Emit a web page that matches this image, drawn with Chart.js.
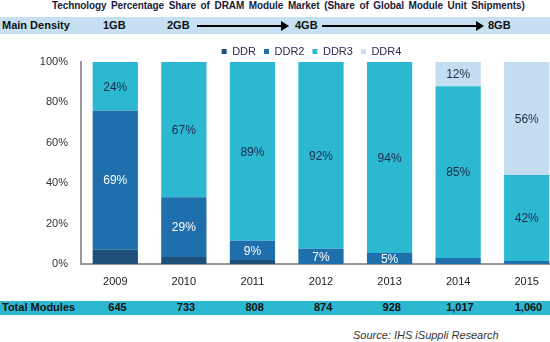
<!DOCTYPE html>
<html>
<head>
<meta charset="utf-8">
<script src="https://cdn.jsdelivr.net/npm/chart.js@4/dist/chart.umd.min.js"></script>
<style>
  html, body { margin: 0; padding: 0; width: 550px; height: 342px; overflow: hidden; background: #fff; font-family: "Liberation Sans", Arial, sans-serif; }
  #wrap { position: relative; width: 550px; height: 342px; overflow: hidden; }
  #title { position: absolute; left: 52px; top: 0; line-height: 12px; white-space: nowrap; font-size: 10px; font-weight: bold; color: #1b1b3a; word-spacing: 2px; letter-spacing: -0.1px; }
  .band { position: absolute; left: 0; width: 550px; }
  #density { top: 17px; height: 17px; background: #c6dff1; }
  #totals { top: 301px; height: 14px; background: #2db8d2; }
  .band span { position: absolute; font-size: 11px; font-weight: bold; color: #111; white-space: nowrap; }
  #density span { top: 2px; }
  #totals span { top: 0px; }
  .arrow { position: absolute; height: 2px; background: #000; top: 25px; }
  .arrow::after { content: ""; position: absolute; right: -2px; top: -4px; border-left: 8px solid #000; border-top: 5px solid transparent; border-bottom: 5px solid transparent; }
  #source { position: absolute; left: 353px; top: 329px; font-size: 11px; font-style: italic; color: #333; }
  #chartBox { position: absolute; left: 0; top: 33px; width: 580px; height: 263px; }
</style>
</head>
<body>
<div id="wrap">
  <div id="title">Technology Percentage Share of DRAM Module Market (Share of Global Module Unit Shipments)</div>
  <div class="band" id="density">
    <span style="left:2px">Main Density</span>
    <span style="left:103px">1GB</span>
    <span style="left:167px">2GB</span>
    <span style="left:295px">4GB</span>
    <span style="left:488px">8GB</span>
  </div>
  <div class="arrow" style="left:197px; width:90px"></div>
  <div class="arrow" style="left:322px; width:160px"></div>
  <div id="chartBox"><canvas id="chart"></canvas></div>
  <div class="band" id="totals"><span style="left:2px">Total Modules</span></div>
  <div id="source">Source: IHS iSuppli Research</div>
</div>
<script>
const years = ['2009', '2010', '2011', '2012', '2013', '2014', '2015'];
const ddr  = [7, 3.5, 2, 0, 0, 0, 0];
const ddr2 = [69, 29.5, 9.5, 7.5, 5.5, 3, 1.5];
const ddr3 = [24, 67, 88.5, 92.5, 94.5, 85, 42.5];
const ddr4 = [0, 0, 0, 0, 0, 12, 56];
const ddr2Labels = ['69%', '29%', '9%', '7%', '5%', '', ''];
const ddr3Labels = ['24%', '67%', '89%', '92%', '94%', '85%', '42%'];
const ddr4Labels = ['', '', '', '', '', '12%', '56%'];
const totalModules = ['645', '733', '808', '874', '928', '1,017', '1,060'];
const yTicks = [0, 20, 40, 60, 80, 100];

const segmentLabels = {
    id: 'segmentLabels',
    afterLayout(chart) {
        // legend sits a bit right of centre and a little lower in the original
        chart.legend.left = 62;
        chart.legend.top += 5;
    },
    afterDatasetsDraw(chart) {
        const ctx = chart.ctx;
        ctx.save();
        ctx.font = '12px "Liberation Sans", Arial, sans-serif';
        ctx.textAlign = 'center';
        ctx.textBaseline = 'middle';
        chart.data.datasets.forEach((ds, di) => {
            if (!ds.segLabels) return;
            chart.getDatasetMeta(di).data.forEach((bar, i) => {
                const text = ds.segLabels[i];
                if (!text) return;
                ctx.fillStyle = ds.labelColor;
                ctx.fillText(text, bar.x, (bar.y + bar.base) / 2 + 1);
            });
        });
        ctx.restore();
    }
};

var chartContext = document.getElementById('chart').getContext('2d');
var chart = new Chart(chartContext, {
    type: 'bar',
    data: {
        labels: years,
        datasets: [{
            label: 'DDR', data: ddr, backgroundColor: '#1d4f7a'
        }, {
            label: 'DDR2', data: ddr2, backgroundColor: '#1f6fad',
            segLabels: ddr2Labels, labelColor: '#ffffff'
        }, {
            label: 'DDR3', data: ddr3, backgroundColor: '#2db8d2',
            segLabels: ddr3Labels, labelColor: '#1b2a48'
        }, {
            label: 'DDR4', data: ddr4, backgroundColor: '#c5ddf1',
            segLabels: ddr4Labels, labelColor: '#1b2a48'
        }]
    },
    options: {
        responsive: true,
        maintainAspectRatio: false,
        animation: false,
        datasets: { bar: { barPercentage: 0.66, categoryPercentage: 1 } },
        layout: { padding: { left: 0, right: 19, top: 0, bottom: 0 } },
        plugins: {
            tooltip: { enabled: false },
            legend: {
                position: 'top',
                labels: {
                    boxWidth: 5, boxHeight: 5, padding: 8, color: '#2a2a55',
                    font: { size: 11, family: '"Liberation Sans", Arial, sans-serif' }
                }
            }
        },
        scales: {
            x: {
                stacked: true,
                grid: { display: false },
                border: { color: '#999', width: 2 },
                ticks: { color: '#222', padding: 3, font: { size: 11, family: '"Liberation Sans", Arial, sans-serif' } },
                afterFit: (scale) => { scale.height = 32; }
            },
            y: {
                stacked: true,
                min: 0, max: 100,
                grid: { display: false },
                border: { color: '#999', width: 2 },
                afterBuildTicks: (scale) => { scale.ticks = yTicks.map(v => ({ value: v })); },
                ticks: {
                    color: '#333', padding: 5,
                    font: { size: 11, family: '"Liberation Sans", Arial, sans-serif' },
                    callback: (v) => v + '%'
                },
                afterFit: (scale) => { scale.width = 81; }
            }
        }
    },
    plugins: [segmentLabels]
});

// place total module counts under each year using the chart's own x scale
var totalsBand = document.getElementById('totals');
totalModules.forEach((t, i) => {
    var s = document.createElement('span');
    s.textContent = t;
    totalsBand.appendChild(s);
    var x = chart.scales.x.getPixelForValue(i);
    s.style.left = (x - s.offsetWidth / 2 + 2) + 'px';
});
</script>
</body>
</html>
